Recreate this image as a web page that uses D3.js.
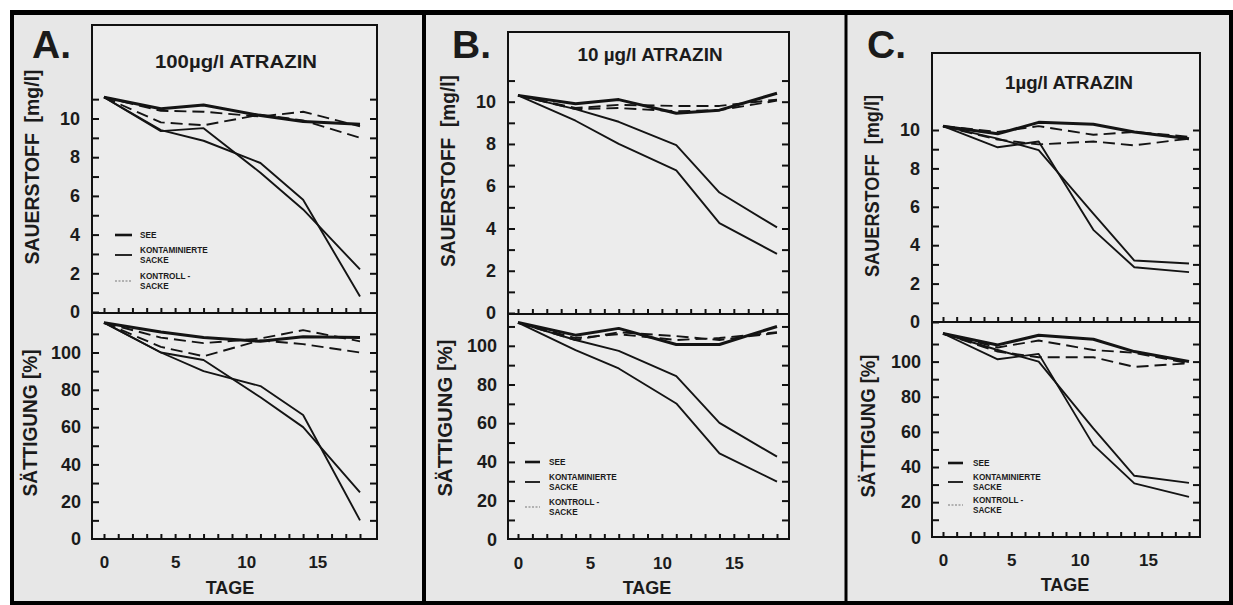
<!DOCTYPE html>
<html>
<head>
<meta charset="utf-8">
<script src="https://cdn.jsdelivr.net/npm/d3@7"></script>
<style>
  body { margin: 0; background: #fff; }
  svg { display: block; }
  text { font-family: "Liberation Sans", Arial, sans-serif; font-weight: bold; fill: #1b1b1b; }
</style>
</head>
<body>
<div id="chart"></div>
<script>
// measurement days
var days = [0, 4, 7, 11, 14, 18];

var letters = ["A.", "B.", "C."];
var titles = ["100\u00b5g/l ATRAZIN", "10 \u00b5g/l ATRAZIN", "1\u00b5g/l ATRAZIN"];
var o2Ticks = [0, 2, 4, 6, 8, 10];
var satTicks = [0, 20, 40, 60, 80, 100];
var dayTicks = [0, 5, 10, 15];
var legendLabels = [["SEE"], ["KONTAMINIERTE", "SACKE"], ["KONTROLL -", "SACKE"]];

// A: 100 µg/l -- oxygen (mg/l)
var o2A_see   = [11.1, 10.5, 10.7, 10.15, 9.85, 9.7];
var o2A_kont1 = [11.1, 9.4, 8.85, 7.7, 5.8, 0.8];
var o2A_kont2 = [11.1, 9.35, 9.5, 7.2, 5.3, 2.2];
var o2A_ctrl1 = [11.1, 10.4, 10.35, 10.1, 10.35, 9.6];
var o2A_ctrl2 = [11.1, 9.8, 9.65, 10.2, 9.9, 9.0];
// A: saturation (%)
var satA_see   = [116, 111, 108, 106, 108.5, 108];
var satA_kont1 = [116, 100, 90, 82, 66.5, 10];
var satA_kont2 = [116, 100, 96, 76, 60, 25];
var satA_ctrl1 = [116, 108, 105, 107.5, 112, 106];
var satA_ctrl2 = [116, 103, 98, 106.5, 104.5, 100];

// B: 10 µg/l
var o2B_see   = [10.3, 9.9, 10.1, 9.45, 9.6, 10.4];
var o2B_kont1 = [10.3, 9.65, 9.05, 7.95, 5.7, 4.05];
var o2B_kont2 = [10.3, 9.1, 8.0, 6.75, 4.25, 2.8];
var o2B_ctrl1 = [10.3, 9.7, 9.85, 9.8, 9.8, 10.1];
var o2B_ctrl2 = [10.3, 9.65, 9.7, 9.55, 9.6, 10.05];
var satB_see   = [112, 105.5, 109, 100.7, 100.7, 110];
var satB_kont1 = [112, 103, 97.4, 84.3, 60.2, 42.7];
var satB_kont2 = [112, 97.8, 88.3, 70.2, 44.4, 29.8];
var satB_ctrl1 = [112, 103, 107, 105, 103, 106.7];
var satB_ctrl2 = [112, 104, 106, 103, 104, 107];

// C: 1 µg/l
var o2C_see   = [10.2, 9.8, 10.4, 10.3, 9.9, 9.55];
var o2C_kont1 = [10.2, 9.1, 9.4, 4.8, 2.85, 2.6];
var o2C_kont2 = [10.2, 9.55, 8.95, 5.65, 3.2, 3.05];
var o2C_ctrl1 = [10.2, 9.9, 10.2, 9.75, 9.9, 9.65];
var o2C_ctrl2 = [10.2, 9.5, 9.25, 9.4, 9.2, 9.55];
var satC_see   = [116, 109.5, 115, 112.7, 105.7, 100];
var satC_kont1 = [116, 101.3, 104.4, 52.6, 30.7, 23];
var satC_kont2 = [116, 106.6, 100, 62, 35, 31];
var satC_ctrl1 = [116, 108, 112, 106.6, 105, 99];
var satC_ctrl2 = [116, 105.7, 102.5, 102.5, 97, 99];

var panels = [
  { o2: [o2A_see, o2A_kont1, o2A_kont2, o2A_ctrl1, o2A_ctrl2],
    sat: [satA_see, satA_kont1, satA_kont2, satA_ctrl1, satA_ctrl2] },
  { o2: [o2B_see, o2B_kont1, o2B_kont2, o2B_ctrl1, o2B_ctrl2],
    sat: [satB_see, satB_kont1, satB_kont2, satB_ctrl1, satB_ctrl2] },
  { o2: [o2C_see, o2C_kont1, o2C_kont2, o2C_ctrl1, o2C_ctrl2],
    sat: [satC_see, satC_kont1, satC_kont2, satC_ctrl1, satC_ctrl2] }
];
// series style index: 0 = SEE, 1/2 = contaminated bags, 3/4 = control bags
var styleOf = [0, 1, 1, 2, 2];

// page geometry per panel
var layout = [
  { box: [92, 25, 377, 313, 539], x: [104, 360], o2y: [312, 118.5], saty: [539, 352.5], o2max: 11,
    letter: [32, 58], title: [236, 62, 162], o2Title: [32, 167, 195], satTitle: [30, 423, 147],
    xLab: 562, tage: [230, 588], legend: { top: true, x0: 115, x1: 132, tx: 140, y: [235, 250, 276] } },
  { box: [508, 32, 789, 314, 539], x: [518, 777], o2y: [313, 101.7], saty: [539.3, 345.8], o2max: 11,
    letter: [452, 58], title: [650, 55, 145], o2Title: [448, 171, 192], satTitle: [445, 418, 157],
    xLab: 563, tage: [647, 588], legend: { top: false, x0: 525, x1: 540, tx: 549, y: [462, 477, 502] } },
  { box: [932, 53, 1200, 322, 537], x: [943, 1189], o2y: [322, 130], saty: [537.3, 361.6], o2max: 10,
    letter: [867, 58], title: [1069, 83, 128], o2Title: [872, 186, 182], satTitle: [868, 426, 143],
    xLab: 560, tage: [1065, 585], legend: { top: false, x0: 948, x1: 963, tx: 973, y: [463, 477, 500] } }
];

var svgWidth = 1233, svgHeight = 605;
var svg = d3.select("#chart").append("svg")
  .attr("width", svgWidth)
  .attr("height", svgHeight);

svg.append("rect").attr("width", svgWidth).attr("height", svgHeight).attr("fill", "#fff");
svg.append("rect").attr("x", 12).attr("y", 13).attr("width", 1219).attr("height", 590).attr("fill", "#e7e7e7");

// outer frame and dividers
var frame = svg.append("g").attr("stroke", "#000");
frame.append("line").attr("x1", 10).attr("x2", 1233).attr("y1", 12.5).attr("y2", 12.5).attr("stroke-width", 5);
frame.append("line").attr("x1", 12).attr("x2", 12).attr("y1", 10).attr("y2", 605).attr("stroke-width", 4);
frame.append("line").attr("x1", 10).attr("x2", 1233).attr("y1", 603).attr("y2", 603).attr("stroke-width", 4);
frame.append("line").attr("x1", 1231).attr("x2", 1231).attr("y1", 10).attr("y2", 605).attr("stroke-width", 4);
frame.append("line").attr("x1", 424).attr("x2", 424).attr("y1", 10).attr("y2", 605).attr("stroke-width", 4);
frame.append("line").attr("x1", 846).attr("x2", 846).attr("y1", 10).attr("y2", 605).attr("stroke-width", 3);

var lineStyles = [
  { w: 3, dash: null },
  { w: 1.9, dash: null },
  { w: 1.9, dash: "12,6" }
];

function styleAxis(sel, size) {
  sel.select(".domain").remove();
  sel.attr("color", "#111");
  sel.selectAll(".tick line").attr("stroke-width", 2);
  sel.selectAll("text")
    .attr("font-family", "'Liberation Sans', Arial, sans-serif")
    .attr("font-weight", "bold")
    .attr("font-size", size)
    .attr("fill", "#1b1b1b");
}

function rotatedTitle(g, t, pos) {
  g.append("text")
    .attr("transform", `translate(${pos[0]}, ${pos[1]}) rotate(-90)`)
    .attr("text-anchor", "middle")
    .attr("dy", "0.36em")
    .attr("font-size", 20)
    .attr("textLength", pos[2])
    .attr("lengthAdjust", "spacingAndGlyphs")
    .text(t);
}

panels.forEach(function (p, i) {
  var L = layout[i];
  var g = svg.append("g");
  var bl = L.box[0], bt = L.box[1], br = L.box[2], bm = L.box[3], bb = L.box[4];

  var x = d3.scaleLinear().domain([0, 18]).range(L.x);
  var yO = d3.scaleLinear().domain([0, 10]).range(L.o2y);
  var yS = d3.scaleLinear().domain([0, 100]).range(L.saty);

  g.append("rect")
    .attr("x", bl).attr("y", bt)
    .attr("width", br - bl).attr("height", bb - bt)
    .attr("fill", "#ececec");

  // tick marks (inward)
  g.append("g").attr("transform", `translate(${bl},0)`)
    .call(d3.axisLeft(yO).tickValues(d3.range(0, L.o2max + 1)).tickSize(-7).tickFormat(""))
    .call(styleAxis, 18);
  g.append("g").attr("transform", `translate(${br},0)`)
    .call(d3.axisRight(yO).tickValues(d3.range(1, L.o2max + 1)).tickSize(-7).tickFormat(""))
    .call(styleAxis, 18);
  g.append("g").attr("transform", `translate(${bl},0)`)
    .call(d3.axisLeft(yS).tickValues(d3.range(10, 111, 10)).tickSize(-7).tickFormat(""))
    .call(styleAxis, 18);
  g.append("g").attr("transform", `translate(${br},0)`)
    .call(d3.axisRight(yS).tickValues(d3.range(10, 111, 10)).tickSize(-7).tickFormat(""))
    .call(styleAxis, 18);
  [bm, bb].forEach(function (yy) {
    g.append("g").attr("transform", `translate(0,${yy})`)
      .call(d3.axisBottom(x).tickValues(d3.range(0, 19)).tickSize(-5).tickFormat(""))
      .call(styleAxis, 18);
  });

  // tick labels
  g.append("g").attr("transform", `translate(${bl},0)`)
    .call(d3.axisLeft(yO).tickValues(o2Ticks).tickSize(0).tickPadding(12))
    .call(styleAxis, 18);
  g.append("g").attr("transform", `translate(${bl},0)`)
    .call(d3.axisLeft(yS).tickValues(satTicks).tickSize(0).tickPadding(11))
    .call(styleAxis, 18);
  g.append("g").attr("transform", `translate(0,${L.xLab - 6})`)
    .call(d3.axisBottom(x).tickValues(dayTicks).tickSize(0).tickPadding(0))
    .call(styleAxis, 17);

  // box outline
  g.append("rect")
    .attr("x", bl).attr("y", bt)
    .attr("width", br - bl).attr("height", bb - bt)
    .attr("fill", "none").attr("stroke", "#111").attr("stroke-width", 2);
  g.append("line")
    .attr("x1", bl).attr("x2", br).attr("y1", bm).attr("y2", bm)
    .attr("stroke", "#111").attr("stroke-width", 2);

  // series
  var lineO = d3.line().x(function (d) { return x(d[0]); }).y(function (d) { return yO(d[1]); });
  var lineS = d3.line().x(function (d) { return x(d[0]); }).y(function (d) { return yS(d[1]); });

  [[p.o2, lineO], [p.sat, lineS]].forEach(function (pair) {
    pair[0].forEach(function (vals, k) {
      var st = lineStyles[styleOf[k]];
      g.append("path")
        .datum(days.map(function (d, j) { return [d, vals[j]]; }))
        .attr("d", pair[1])
        .attr("fill", "none")
        .attr("stroke", "#141414")
        .attr("stroke-width", st.w)
        .attr("stroke-linejoin", "round")
        .attr("stroke-dasharray", st.dash);
    });
  });

  // texts
  g.append("text")
    .attr("x", L.letter[0]).attr("y", L.letter[1])
    .attr("font-family", "Lato, 'Open Sans', sans-serif")
    .attr("font-size", 39)
    .attr("fill", "#000")
    .text(letters[i]);

  g.append("text")
    .attr("x", L.title[0]).attr("y", L.title[1])
    .attr("dy", "0.36em")
    .attr("text-anchor", "middle")
    .attr("font-size", 18)
    .attr("textLength", L.title[2])
    .attr("lengthAdjust", "spacingAndGlyphs")
    .text(titles[i]);

  rotatedTitle(g, "SAUERSTOFF\u00a0\u00a0[mg/l]", L.o2Title);
  rotatedTitle(g, "S\u00c4TTIGUNG [%]", L.satTitle);

  g.append("text")
    .attr("x", L.tage[0]).attr("y", L.tage[1])
    .attr("dy", "0.36em")
    .attr("text-anchor", "middle")
    .attr("font-size", 18)
    .text("TAGE");

  // legend
  var lg = L.legend;
  legendLabels.forEach(function (lab, k) {
    var ly = lg.y[k] + (lab.length > 1 ? 5 : 0);
    g.append("line")
      .attr("x1", lg.x0).attr("x2", lg.x1)
      .attr("y1", ly).attr("y2", ly)
      .attr("stroke", k === 2 ? "#777" : "#141414")
      .attr("stroke-width", k === 0 ? 2.6 : (k === 1 ? 1.8 : 1))
      .attr("stroke-dasharray", k === 2 ? "2,1.5" : null);
    lab.forEach(function (t, r) {
      g.append("text")
        .attr("x", lg.tx).attr("y", lg.y[k] + r * 10.5)
        .attr("dy", "0.36em")
        .attr("font-size", 8.2)
        .text(t);
    });
  });
});
</script>
</body>
</html>
